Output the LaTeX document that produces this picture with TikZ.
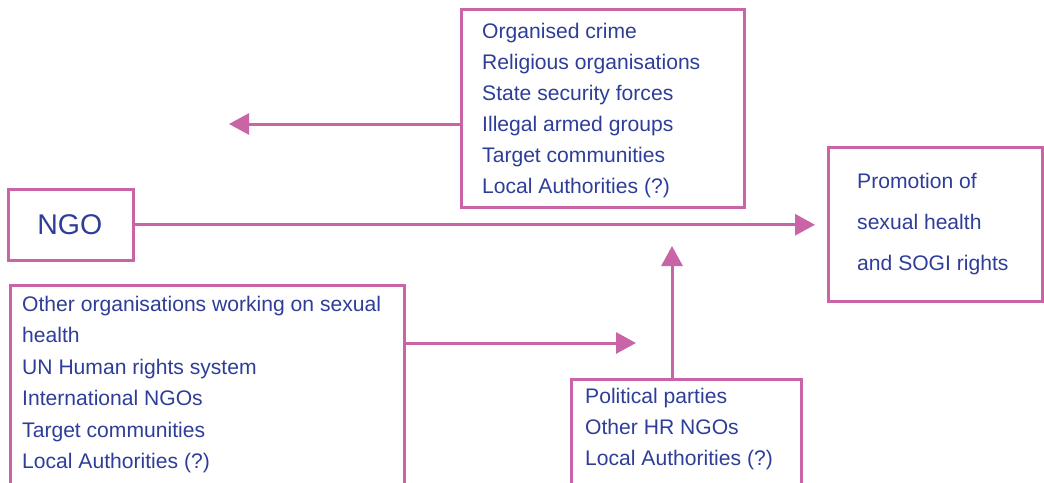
\documentclass[tikz,border=0pt]{standalone}
\usepackage{fontspec}
\setmainfont{Liberation Sans}
\usetikzlibrary{arrows.meta}
\definecolor{pinkline}{RGB}{201,101,167}
\definecolor{textblue}{RGB}{46,62,152}
\tikzset{
  box/.style={draw=pinkline, line width=2.5pt, anchor=north west, inner sep=0pt, fill=none},
  listtext/.style={anchor=north west, inner sep=0pt, align=left, text=textblue, font=\fontsize{21.1}{31}\selectfont},
  link/.style={draw=pinkline, line width=3pt, -{Triangle[length=20pt,width=21pt]}},
}
\begin{document}
\begin{tikzpicture}[x=1pt,y=-1pt]
\useasboundingbox (0,0) rectangle (1044,482);
\clip (0,0) rectangle (1044,482);
% boxes
\node[box, minimum width=283pt, minimum height=198pt] (topbox) at (460,8) {};
\node[listtext] (toptext) at (482,23) {Organised crime\\Religious organisations\\State security forces\\Illegal armed groups\\Target communities\\Local Authorities (?)};
\node[box, minimum width=125pt, minimum height=71pt] (ngo) at (7,188) {};
\node[text=textblue, font=\fontsize{28.5}{34}\selectfont, inner sep=0pt] (ngotext) at ([xshift=-1pt]ngo.center) {NGO};
\node[box, minimum width=214pt, minimum height=154pt] (goal) at (827,146) {};
\node[listtext, font=\fontsize{21.1}{41}\selectfont] (goaltext) at (857,173) {Promotion of\\sexual health\\and SOGI rights};
\node[box, minimum width=394pt, minimum height=240pt] (blbox) at (9,284) {};
\node[listtext, font=\fontsize{21.1}{31.4}\selectfont] (bltext) at (22,296) {Other organisations working on sexual\\health\\UN Human rights system\\International NGOs\\Target communities\\Local Authorities (?)};
\node[box, minimum width=230pt, minimum height=140pt] (brbox) at (570,378) {};
\node[listtext] (brtext) at (585,388) {Political parties\\Other HR NGOs\\Local Authorities (?)};
% free ends
\coordinate (leftend) at (229,124);
\coordinate (midend) at (636,343);
\coordinate (upend) at (672,246);
% connectors
\draw[link] (topbox.west |- leftend) -- (leftend);
\draw[link, shorten >=12pt] (ngo.east) -- (goal.west |- ngo.east);
\draw[link] (blbox.east |- midend) -- (midend);
\draw[link] (brbox.north -| upend) -- (upend);
\end{tikzpicture}
\end{document}
